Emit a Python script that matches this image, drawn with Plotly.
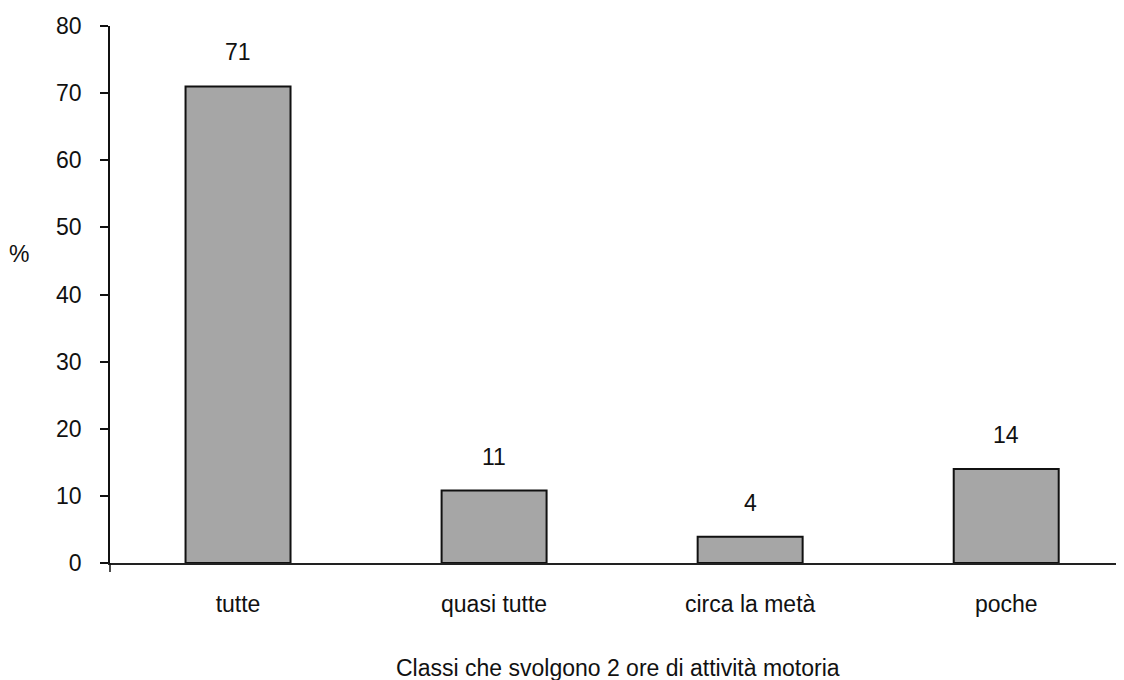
import plotly.graph_objects as go

categories = ["tutte", "quasi tutte", "circa la metà", "poche"]
values = [71, 10.8, 3.9, 14]
labels = ["71", "11", "4", "14"]
y_ticks = [0, 10, 20, 30, 40, 50, 60, 70, 80]

FONT = "Liberation Sans, Arial, sans-serif"
FS = 23

fig = go.Figure()
fig.add_trace(go.Bar(
    x=categories, y=values, width=0.41,
    marker=dict(color="#a6a6a6", line=dict(color="#111111", width=2)),
    hoverinfo="skip",
))

for c, v, t in zip(categories, values, labels):
    fig.add_annotation(x=c, y=v, text=t, showarrow=False, yshift=34,
                       font=dict(family=FONT, size=FS, color="#111111"))

fig.add_annotation(xref="paper", yref="paper", x=(19 - 110) / 1014, y=(563 - 254) / 537,
                   text="%", showarrow=False, xanchor="center", yanchor="middle",
                   font=dict(family=FONT, size=FS, color="#111111"))
fig.add_annotation(xref="paper", yref="paper", x=(618 - 110) / 1014, y=(563 - 668) / 537,
                   text="Classi che svolgono 2 ore di attività motoria", showarrow=False,
                   xanchor="center", yanchor="middle",
                   font=dict(family=FONT, size=FS, color="#111111"))

fig.add_shape(type="line", xref="paper", yref="paper", x0=0, x1=0,
              y0=-9 / 537, y1=0, line=dict(color="#111111", width=1.5))

fig.update_layout(
    width=1116, height=672,
    margin=dict(l=102, r=0, t=18, b=117, pad=0),
    paper_bgcolor="white", plot_bgcolor="white",
    showlegend=False,
    font=dict(family=FONT, size=FS, color="#111111"),
    xaxis=dict(
        type="category", range=[-0.5, 3.46],
        showline=True, linecolor="#222222", linewidth=1.5,
        ticks="", showgrid=False, zeroline=False,
        ticklabelstandoff=20,
        tickfont=dict(family=FONT, size=FS, color="#111111"),
    ),
    yaxis=dict(
        range=[0, 80], tickvals=y_ticks,
        showline=True, linecolor="#111111", linewidth=1.5,
        ticks="outside", ticklen=8, tickcolor="#111111", tickwidth=1.5,
        showgrid=False, zeroline=False,
        ticklabelstandoff=14,
        tickfont=dict(family=FONT, size=FS, color="#111111"),
    ),
)

fig.write_html("out.html")
